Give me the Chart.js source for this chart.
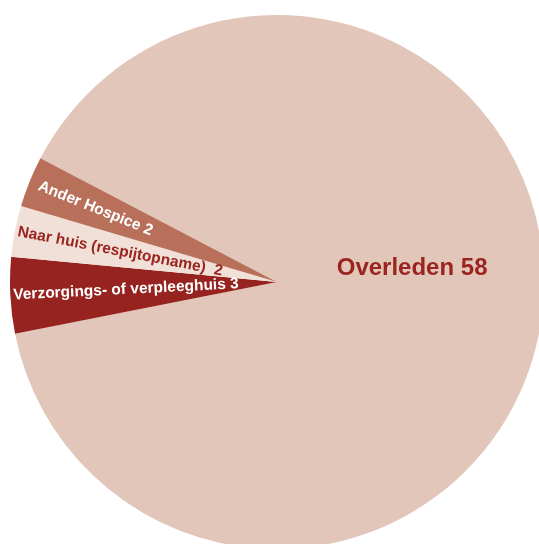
<!DOCTYPE html>
<html>
<head>
<meta charset="utf-8">
<script src="https://cdn.jsdelivr.net/npm/chart.js@4/dist/chart.umd.min.js"></script>
<style>
    html, body { margin: 0; padding: 0; background: #fff; overflow: hidden; width: 539px; height: 544px; }
    #pie { position: absolute; left: 10px; top: 15px; }
</style>
</head>
<body>
<canvas id="pie" width="534" height="534"></canvas>
<script>
// slice data
const labels = ["Overleden", "Verzorgings- of verpleeghuis", "Naar huis (respijtopname) ", "Ander Hospice"];
const values = [58, 3, 2, 2];
const colors = ["#e2c6b9", "#96231f", "#f1e0d7", "#b8705a"];
const textColors = ["#9a2520", "#ffffff", "#9a2520", "#ffffff"];

// draws the labels on top of the slices
const sliceLabels = {
    id: "sliceLabels",
    afterDatasetsDraw: function(chart) {
        const ctx = chart.ctx;
        const arcs = chart.getDatasetMeta(0).data;
        arcs.forEach((arc, i) => {
            const text = labels[i] + " " + values[i];
            const r = arc.outerRadius;
            ctx.save();
            ctx.fillStyle = textColors[i];
            ctx.textBaseline = "middle";
            if (i === 0) {
                // big slice: horizontal, in the right half
                ctx.font = "bold 24px 'Liberation Sans', Arial, sans-serif";
                ctx.textAlign = "center";
                ctx.fillText(text, arc.x + r * 0.506, arc.y - r * 0.052);
            } else {
                // small slices: along the radius, starting near the rim
                const mid = (arc.startAngle + arc.endAngle) / 2;
                const inset = i === 3 ? 10 : 3;
                ctx.font = "bold 15.5px 'Liberation Sans', Arial, sans-serif";
                ctx.translate(arc.x + Math.cos(mid) * (r - inset), arc.y + Math.sin(mid) * (r - inset));
                ctx.rotate(mid - Math.PI);
                ctx.textAlign = "left";
                ctx.fillText(text, 0, 0);
            }
            ctx.restore();
        });
    }
};

new Chart(document.getElementById("pie"), {
    type: "pie",
    data: {
        labels: labels,
        datasets: [{
            data: values,
            backgroundColor: colors,
            borderWidth: 0
        }]
    },
    options: {
        responsive: false,
        animation: false,
        rotation: 297.6,
        layout: { padding: 0 },
        plugins: {
            legend: { display: false },
            tooltip: { enabled: false }
        }
    },
    plugins: [sliceLabels]
});
</script>
</body>
</html>
